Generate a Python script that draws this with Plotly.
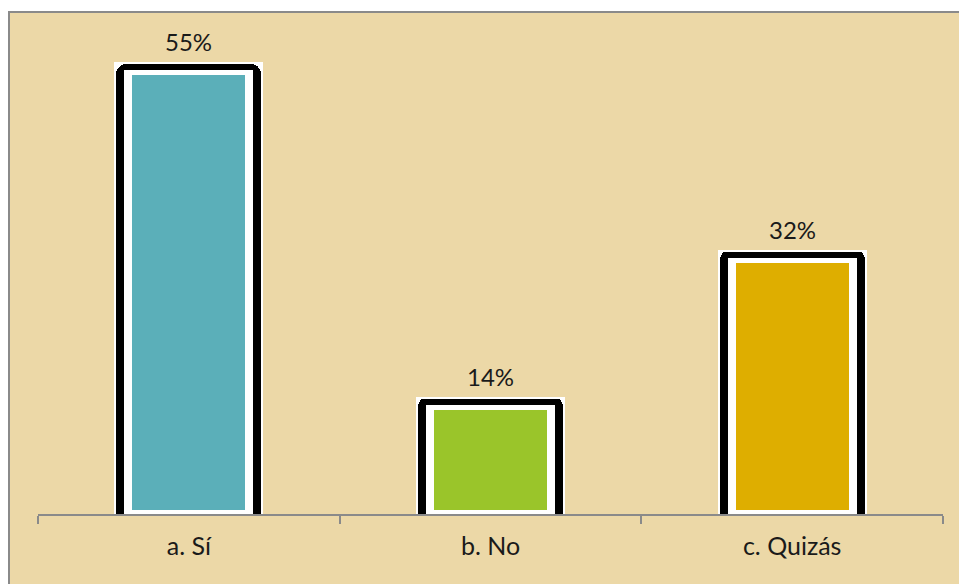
import plotly.graph_objects as go

categories = ["a. Sí", "b. No", "c. Quizás"]
values = [55, 14, 32]
fill_colors = ["#5BAFB9", "#9AC52A", "#DEAE00"]

# layout constants (pixels)
W, H = 959, 584
ML, MR, MT, MB = 38, 16, 33, 70
YMAX = 58.8
plot_h = H - MT - MB
plot_w = W - ML - MR
px = YMAX / plot_h  # data units per pixel
cat_px = plot_w / len(categories)

def wid(p):
    return p / cat_px

fig = go.Figure()

# outer white backing
fig.add_trace(go.Bar(
    x=categories, y=[v + 2 * px for v in values],
    width=wid(149), marker=dict(color="white", line=dict(width=0)),
    hoverinfo="skip", showlegend=False))
# black rounded frame
fig.add_trace(go.Bar(
    x=categories, y=values,
    width=wid(145), marker=dict(color="black", line=dict(width=0), cornerradius=10),
    hoverinfo="skip", showlegend=False))
# inner white gap
fig.add_trace(go.Bar(
    x=categories, y=[v - 6 * px for v in values],
    width=wid(129), marker=dict(color="white", line=dict(width=0), cornerradius=3),
    hoverinfo="skip", showlegend=False))
# coloured fill
fig.add_trace(go.Bar(
    x=categories, y=[v - 11 * px - 4 * px for v in values], base=4 * px,
    width=wid(113), marker=dict(color=fill_colors, line=dict(width=0)),
    showlegend=False))

for c, v in zip(categories, values):
    fig.add_annotation(x=c, y=v, text=f"{v}%", showarrow=False,
                       yanchor="bottom", yshift=6,
                       font=dict(family="Lato", size=24, color="#1a1a1a"))

# chart area border with parchment colour
fig.add_shape(type="rect", xref="paper", yref="paper",
              x0=(9 - ML) / plot_w, x1=1.2,
              y0=-0.4, y1=1 + (MT - 12) / plot_h,
              line=dict(color="#8a8a8a", width=2),
              fillcolor="#ECD8A7", layer="below")

fig.update_layout(
    width=W, height=H,
    margin=dict(l=ML, r=MR, t=MT, b=MB),
    paper_bgcolor="white", plot_bgcolor="rgba(0,0,0,0)",
    barmode="overlay", bargap=0,
    font=dict(family="Lato", size=24, color="#1a1a1a"),
    xaxis=dict(type="category", range=[-0.5, 2.5], tickson="boundaries",
               ticks="outside", ticklen=8, tickwidth=2, tickcolor="#8a8a8a",
               showline=True, linewidth=2, linecolor="#8a8a8a",
               showgrid=False, zeroline=False, ticklabelstandoff=9,
               tickfont=dict(family="Lato", size=25, color="#1a1a1a")),
    yaxis=dict(range=[0, YMAX], visible=False, showgrid=False, zeroline=False),
)

fig.write_html("out.html", config={"displayModeBar": False},
               post_script="document.body.style.margin='0';document.body.style.overflow='hidden';")
